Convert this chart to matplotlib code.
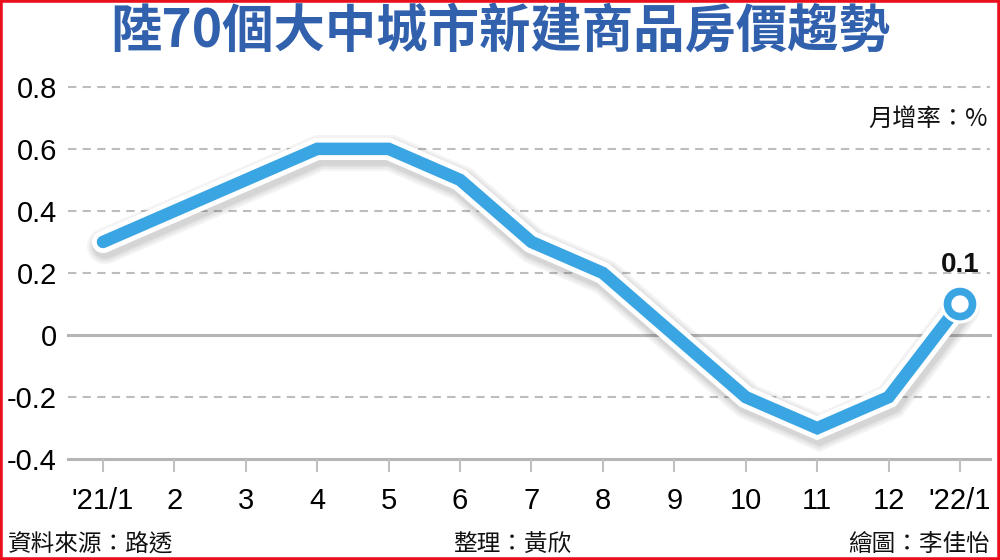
import matplotlib
matplotlib.use("Agg")
import matplotlib.pyplot as plt
import matplotlib.patheffects as pe
from matplotlib.patches import Rectangle

# Data
months = ["'21/1", "2", "3", "4", "5", "6", "7", "8", "9", "10", "11", "12", "'22/1"]
mom = [0.3, 0.4, 0.5, 0.6, 0.6, 0.5, 0.3, 0.2, 0.0, -0.2, -0.3, -0.2, 0.1]
yticks = [-0.4, -0.2, 0, 0.2, 0.4, 0.6, 0.8]
ylabels = ["-0.4", "-0.2", "0", "0.2", "0.4", "0.6", "0.8"]

cjk = ["Noto Sans CJK TC", "DejaVu Sans"]
num = ["Liberation Sans", "DejaVu Sans"]
blue = "#3aa5e3"

fig = plt.figure(figsize=(10, 5.6), dpi=100)
ax = fig.add_axes([0.068, 0.180, 0.922, 0.665])
x = list(range(len(months)))

ax.set_xlim(-0.49, 12.42)
ax.set_ylim(-0.4, 0.8)

# grid lines: dashed, 0 and bottom solid
for v in yticks:
    if v in (0, -0.4):
        ax.axhline(v, color="#b5b5b5", lw=2.2, zorder=1, clip_on=False)
    else:
        ax.axhline(v, color="#bdbdbd", lw=1.5, ls=(0, (4, 3)), zorder=1, clip_on=False)

# soft shadow = a few wide faint strokes, then white halo, then the blue line
shadow = [pe.SimpleLineShadow(offset=(1.5, -3), shadow_color="#444444", alpha=0.06, linewidth=w)
          for w in (26, 23, 20, 18)]
ax.plot(x, mom, color=blue, lw=9, solid_joinstyle="miter", solid_capstyle="round", zorder=3, clip_on=False,
        path_effects=shadow + [pe.Stroke(linewidth=16, foreground="white"), pe.Normal()])
ax.plot(x[-1], mom[-1], "o", ms=18, mfc="white", mec=blue, mew=5.5, zorder=4, clip_on=False,
        path_effects=[pe.Stroke(linewidth=10, foreground="white"), pe.Normal()])
ax.text(x[-1], mom[-1] + 0.085, "0.1", ha="center", va="bottom", fontsize=20, fontweight="bold",
        family=num, color="#111111")

for s in ax.spines.values():
    s.set_visible(False)
ax.set_yticks(yticks)
ax.set_yticklabels(ylabels, family=num, fontsize=21)
ax.tick_params(axis="y", length=0, pad=8)
ax.set_xticks(x)
ax.set_xticklabels(months, family=num, fontsize=21)
ax.tick_params(axis="x", length=9, width=1.5, color="#c0c0c0", pad=11)
ax.set_facecolor("white")

fig.text(0.5, 0.943, "陸70個大中城市新建商品房價趨勢", ha="center", va="center", fontsize=37,
         fontweight="bold", color="#3160ad", family=cjk)
fig.text(0.988, 0.788, "月增率：%", ha="right", va="center", fontsize=17.5, family=cjk, color="#111111")
fig.text(0.008, 0.028, "資料來源：路透", ha="left", va="center", fontsize=17, family=cjk, color="#111111")
fig.text(0.512, 0.028, "整理：黃欣", ha="center", va="center", fontsize=17, family=cjk, color="#111111")
fig.text(0.99, 0.028, "繪圖：李佳怡", ha="right", va="center", fontsize=17, family=cjk, color="#111111")

fig.patches.append(Rectangle((0, 0), 1, 1, transform=fig.transFigure, fill=False,
                             edgecolor="#e8101c", lw=4, zorder=10))

fig.savefig("out.png", dpi=100, facecolor="white")
